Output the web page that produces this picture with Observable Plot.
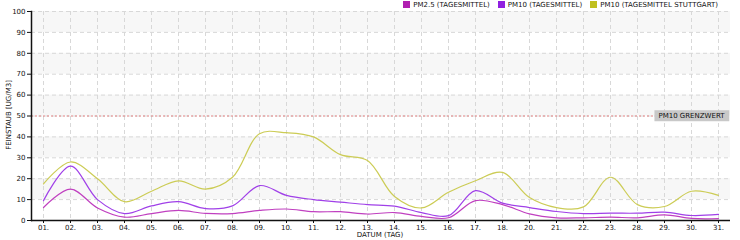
<!DOCTYPE html>
<html><head><meta charset="utf-8">
<script src="https://cdn.jsdelivr.net/npm/d3@7"></script>
<script src="https://cdn.jsdelivr.net/npm/@observablehq/plot@0.6"></script>
<style>
body{margin:0;background:#fff;}
#wrap{position:relative;width:740px;height:240px;font-family:"DejaVu Sans",sans-serif;color:#111;}
#legend{position:absolute;z-index:2;top:1px;right:22px;display:flex;gap:8px;font-size:7px;line-height:9px;text-transform:uppercase;}
#legend span.sw{display:inline-block;width:7px;height:7px;margin-right:3px;vertical-align:-1px;}
.title{position:absolute;z-index:2;font-size:7px;line-height:8px;text-transform:uppercase;white-space:nowrap;}
</style></head><body><div id="wrap"><div id="legend"></div></div>
<script>
const days = ["01.","02.","03.","04.","05.","06.","07.","08.","09.","10.","11.","12.","13.","14.","15.","16.","17.","18.","20.","21.","22.","23.","28.","29.","30.","31."];
const pm25 = [6.2,15,6,1.6,3.3,4.8,3.4,3.3,4.8,5.5,4.2,4.2,3.1,3.8,2,1.3,9.5,7.6,3.2,1.3,1.3,1.6,1.3,2.7,1,0.9];
const pm10 = [9.5,26,10,3.3,7,9,5.7,7,16.7,12,10,8.8,7.6,6.9,3.8,2.3,14.3,8.3,6.2,4.3,3.3,3.5,3.5,4,2.4,2.9];
const pm10Stuttgart = [17.5,28,20,9,14,19,15,20.7,41.5,42,40,31.5,28.7,11.5,6,13.5,19,23,11,6.2,6.5,20.7,7.6,6.7,14,12];
const seriesNames = ["PM2.5 (Tagesmittel)","PM10 (Tagesmittel)","PM10 (Tagesmittel Stuttgart)"];
const seriesColors = ["#c040c0","#a040e8","#cccc55"];
const swatchColors = ["#b020b0","#9020e0","#c0c020"];
const yTicks = [0,10,20,30,40,50,60,70,80,90,100];
const bands = [[10,20],[30,40],[50,60],[70,80],[90,100]];
const limit = 50;
const limitLabel = "PM10 Grenzwert";
const xTitle = "Datum (Tag)";
const yTitle = "Feinstaub [ug/m3]";

const data = [];
[pm25, pm10, pm10Stuttgart].forEach((arr, s) => arr.forEach((v, i) => data.push({day: days[i], value: v, series: seriesNames[s]})));

const chart = Plot.plot({
  width: 740, height: 240,
  marginLeft: 31, marginRight: 10, marginTop: 11, marginBottom: 20,
  style: {fontFamily: '"DejaVu Sans", sans-serif', fontSize: "7px", color: "#111", background: "white", overflow: "visible"},
  x: {type: "point", domain: days, padding: 0.44, label: null},
  y: {domain: [0, 100], label: null},
  color: {domain: seriesNames, range: seriesColors},
  marks: [
    Plot.rect(bands, {y1: d => d[0], y2: d => d[1], fill: "#f7f7f7"}),
    Plot.gridY(yTicks, {stroke: "#d8d8d8", strokeOpacity: 1, strokeDasharray: "4,3"}),
    Plot.gridX({stroke: "#d8d8d8", strokeOpacity: 1, strokeDasharray: "4,3"}),
    Plot.ruleY([limit], {stroke: "#e08080", strokeDasharray: "2,2"}),
    Plot.line(data, {x: "day", y: "value", stroke: "series", curve: "catmull-rom", strokeWidth: 1.2}),
    Plot.axisY(yTicks, {tickSize: 4, tickPadding: 2, label: null}),
    Plot.axisX({tickSize: 3, tickPadding: 2, label: null}),
    Plot.ruleY([0], {stroke: "#111", strokeWidth: 1.5}),
    Plot.frame({anchor: "left", stroke: "#111", strokeWidth: 1.5}),
    Plot.text([{d: days[days.length - 2], v: limit}], {x: "d", y: "v", text: () => limitLabel.toUpperCase(), fill: "#111", className: "limitlabel"})
  ]
});
chart.querySelectorAll("text").forEach(t => { if (t.textContent) t.textContent = t.textContent.toUpperCase(); });
const wrap = document.getElementById("wrap");
chart.style.position = "absolute"; chart.style.left = "0"; chart.style.top = "0"; chart.style.zIndex = "1";
wrap.appendChild(chart);

// box behind limit label
const lt = chart.querySelector(".limitlabel text");
if (lt) {
  const b = lt.getBBox();
  const r = document.createElementNS("http://www.w3.org/2000/svg", "rect");
  r.setAttribute("x", b.x - 4); r.setAttribute("y", b.y - 2);
  r.setAttribute("width", b.width + 8); r.setAttribute("height", b.height + 3);
  r.setAttribute("fill", "#c8c8c8");
  const tr = lt.getAttribute("transform");
  if (tr) r.setAttribute("transform", tr);
  lt.parentNode.insertBefore(r, lt);
}

const legend = document.getElementById("legend");
seriesNames.forEach((n, i) => {
  const it = document.createElement("div");
  it.innerHTML = `<span class="sw" style="background:${swatchColors[i]}"></span>${n}`;
  legend.appendChild(it);
});
const xt = document.createElement("div");
xt.className = "title"; xt.textContent = xTitle;
xt.style.left = "380px"; xt.style.top = "231px"; xt.style.transform = "translateX(-50%)";
wrap.appendChild(xt);
const yt = document.createElement("div");
yt.className = "title"; yt.textContent = yTitle;
yt.style.left = "9px"; yt.style.top = "115px"; yt.style.transform = "translate(-50%,-50%) rotate(-90deg)";
wrap.appendChild(yt);
</script>
</body></html>
